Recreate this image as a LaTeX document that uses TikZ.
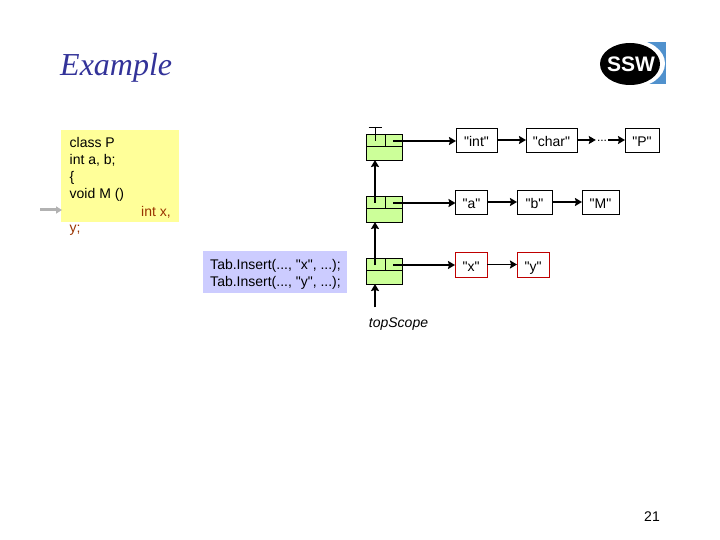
\documentclass[tikz,border=0pt]{standalone}
\usepackage{fontspec}
\setmainfont{Liberation Sans}[Ligatures=TeXOff]
\newfontfamily\titlefont{Liberation Serif}
\usetikzlibrary{arrows.meta, positioning, calc}
\definecolor{scopegreen}{RGB}{204,255,153}
\definecolor{codeyellow}{RGB}{255,255,153}
\definecolor{tabblue}{RGB}{204,204,255}
\definecolor{titleblue}{RGB}{51,51,153}
\definecolor{newred}{RGB}{153,51,0}
\definecolor{logoblue}{RGB}{80,145,205}

\begin{document}
\begin{tikzpicture}[x=1pt, y=-1pt, node distance=36pt, font=\fontsize{14}{17}\selectfont,
    frame/.style={rectangle, draw, fill=scopegreen, line width=0.8pt, minimum width=36pt, minimum height=26pt, inner sep=0pt, outer sep=0pt},
    entry/.style={rectangle, draw, fill=white, line width=0.8pt, minimum height=24pt, inner sep=0pt, outer sep=0pt, text height=13pt, text depth=0pt},
    newentry/.style={entry, draw=red!75!black, minimum height=25pt},
    line/.style={draw, line width=1.9pt, -{Stealth[length=7pt, width=8pt, inset=1pt]}},
    code/.style={anchor=base west, inner sep=0pt}]

    \useasboundingbox (0,0) rectangle (720,540);

    % Title and logo
    \node [anchor=west, inner sep=0pt, font=\titlefont\itshape\fontsize{32}{36}\selectfont, text=titleblue] (title) at (60,68) {Example};
    \fill [logoblue] (640,42) rectangle (666,84);
    \fill [white] (632,63.5) ellipse (33 and 24);
    \fill [black] (630,64) ellipse (30 and 21);
    \node [inner sep=0pt, text=white, font=\bfseries\fontsize{21}{21}\selectfont] (logo) at (631,64) {SSW};

    % Source text
    \fill [codeyellow] (61,130) rectangle (179,222);
    \node [code] (l1) at (69.5,148) {class P};
    \node [code] (l2) at (69.5,165) {int a, b;};
    \node [code] (l3) at (69.5,182) {\{};
    \node [code] (l4) at (69.5,199) {void M ()};
    \node [code, text=newred] (l5) at (141,216) {int x,};
    \node [code, text=newred] (l6) at (69.5,233) {y;};
    \coordinate (cursor) at (40,210);
    \coordinate (cursorEnd) at (62,210);
    \draw [draw=gray!60, line width=3pt, -{Stealth[length=6pt, width=7pt, inset=0pt]}] (cursor) -- (cursorEnd);

    % Calls
    \fill [tabblue] (203,251) rectangle (347,293);
    \node [inner sep=0pt, align=left] (calls) at (275.5,274.5) {Tab.Insert(..., "x", ...);\\Tab.Insert(..., "y", ...);};

    % Scopes
    \node [frame] (scope0) at (384,147) {};
    \node [frame, below=of scope0] (scope1) {};
    \node [frame, below=of scope1] (scope2) {};
    \foreach \s in {scope0, scope1, scope2} {
        \draw [line width=0.8pt] ($(\s.north west)+(0,12)$) -- ($(\s.north east)+(0,12)$);
        \draw [line width=0.8pt] ($(\s.north west)+(19,0)$) -- ($(\s.north west)+(19,12)$);
        \coordinate (\s-up) at ($(\s.north west)+(9,7)$);
        \coordinate (\s-out) at ($(\s.north west)+(27,7)$);
        \coordinate (\s-bottom) at ($(\s.south west)+(9,0)$);
    }

    % Names
    \node [entry, minimum width=41pt] (int) at (476.5,140) {"int"};
    \node [entry, minimum width=51pt] (char) at (551.5,140) {"char"};
    \node [entry, minimum width=34pt] (P) at (642,140) {"P"};
    \node [entry, minimum width=32pt] (a) at (471.5,202) {"a"};
    \node [entry, minimum width=35pt] (b) at (534.5,202) {"b"};
    \node [entry, minimum width=37pt] (M) at (600.5,202) {"M"};
    \node [newentry, minimum width=32pt] (x) at (471,264.5) {"x"};
    \node [newentry, minimum width=32pt] (y) at (533,264.5) {"y"};
    \node [inner sep=0pt, font=\itshape\fontsize{14}{17}\selectfont] (top) at (398.5,324) {topScope};
    \node [inner xsep=1pt, inner ysep=0pt, text height=6pt, text depth=2pt, font=\fontsize{12}{14}\selectfont] (dots) at (602,140) {...};
    \node [inner sep=0pt] (page) at (652,517) {21};

    % Paths
    \coordinate (topStart) at (scope2-bottom |- top.north);
    \path [line] (scope0-out) -- (scope0-out -| int.west);
    \path [line] (scope1-out) -- (scope1-out -| a.west);
    \path [line] (scope2-out) -- (scope2-out -| x.west);
    \path [line] (scope1-up) -- (scope0-bottom);
    \path [line] (scope2-up) -- (scope1-bottom);
    \path [line] ($(topStart)+(0,-10)$) -- (scope2-bottom);
    \path [line] (int) -- (char);
    \path [line] (char) -- (dots);
    \path [line] (dots) -- (P);
    \path [line] (a) -- (b);
    \path [line] (b) -- (M);
    \path [line] (x) -- (y);

    % Guard
    \coordinate (guard) at ($(scope0-up)+(0,-14)$);
    \draw [line width=0.8pt] ($(guard)+(-6.5,0)$) -- ($(guard)+(6.5,0)$);
    \draw [line width=0.8pt] (guard) -- (scope0-up);
\end{tikzpicture}
\end{document}
